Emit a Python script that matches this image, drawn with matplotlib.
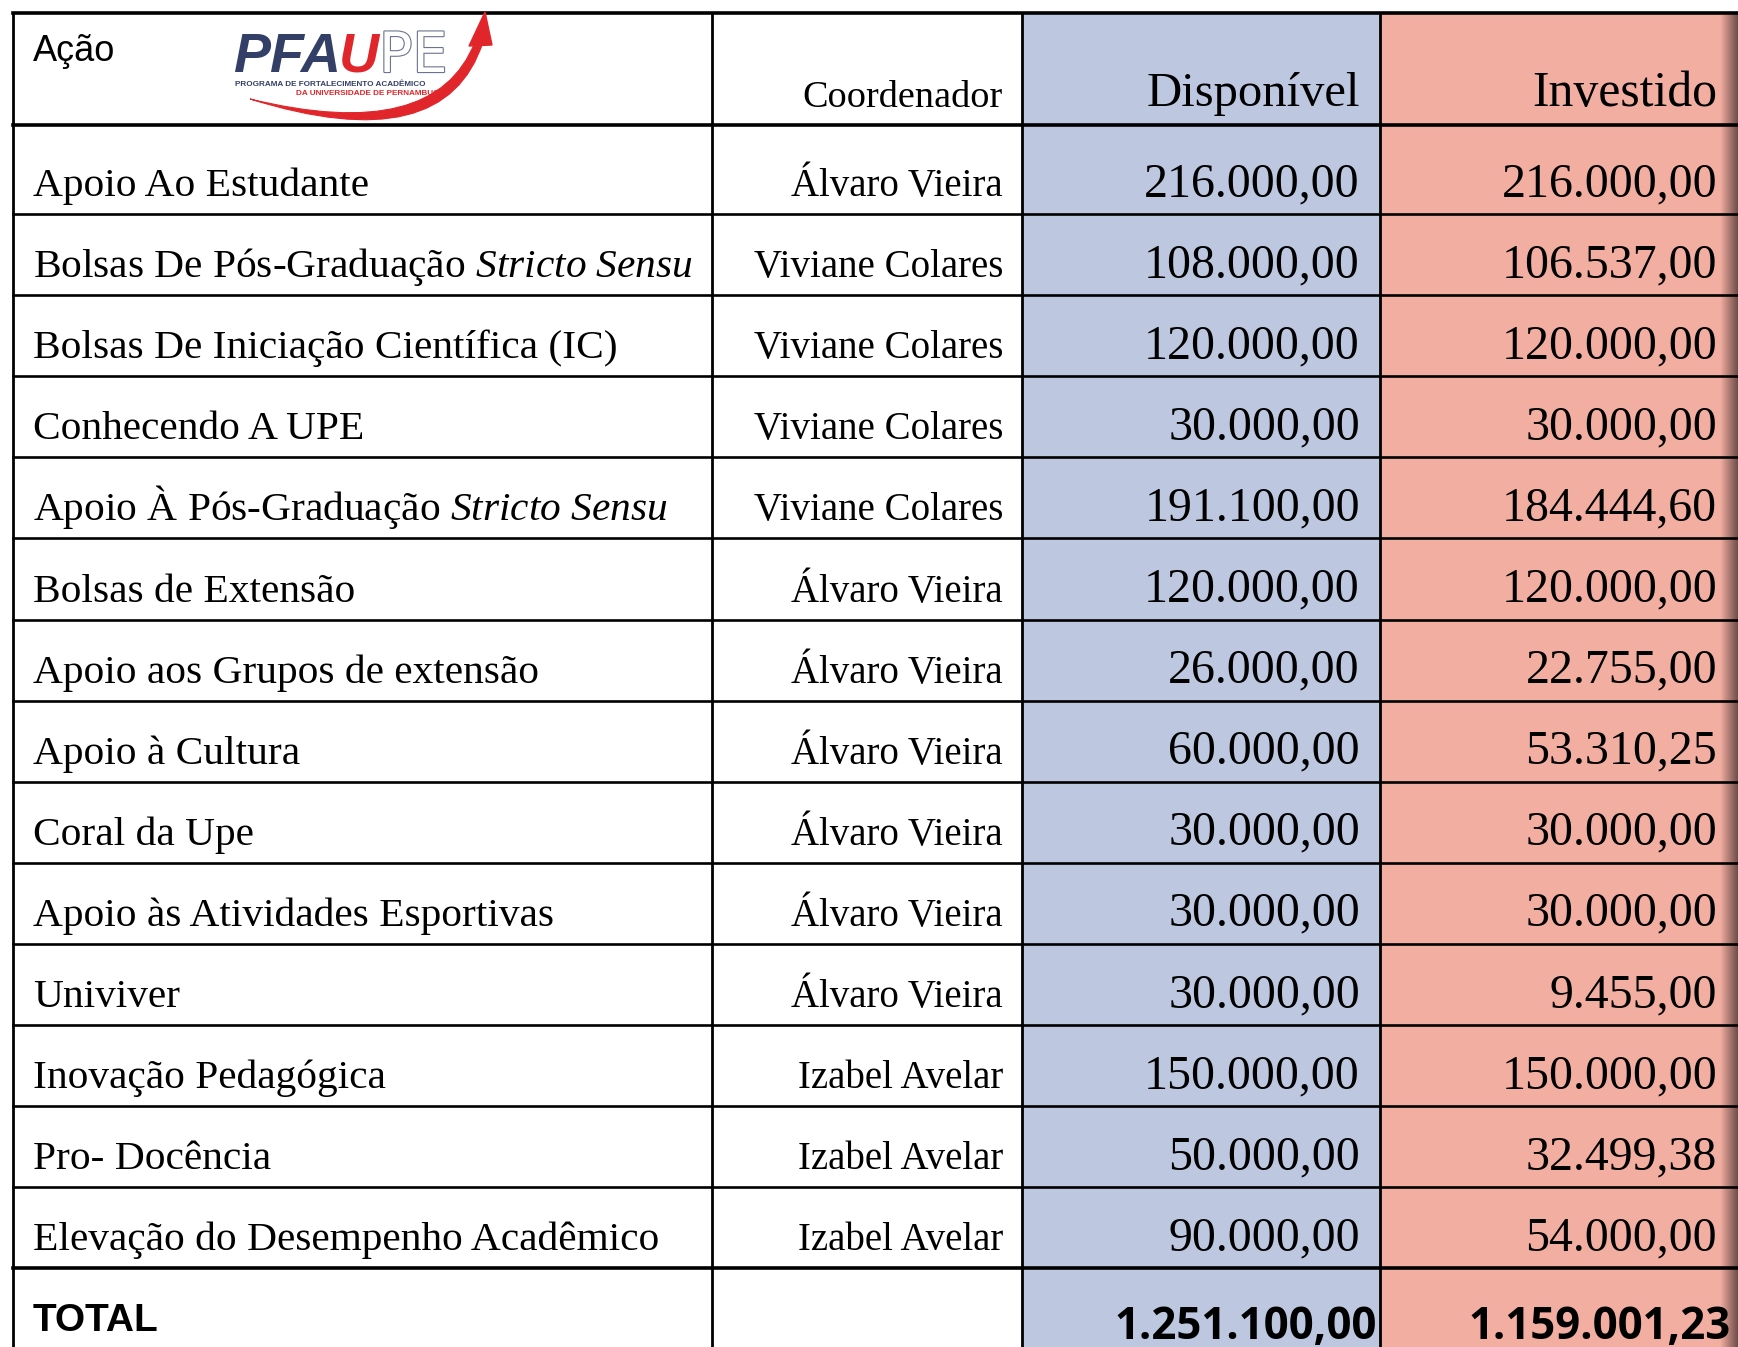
import numpy as np
import matplotlib
matplotlib.use('Agg')
import matplotlib.pyplot as plt
from matplotlib.path import Path
from matplotlib.patches import PathPatch, Polygon, Rectangle
import matplotlib.patheffects as pe

plt.rcParams['mathtext.fontset'] = 'custom'
plt.rcParams['mathtext.rm'] = 'Liberation Serif'
plt.rcParams['mathtext.it'] = 'Liberation Serif:italic'

# data
acoes = ['Apoio Ao Estudante',
         r'Bolsas De Pós-Graduação $\mathit{Stricto\ Sensu}$',
         'Bolsas De Iniciação Científica (IC)',
         'Conhecendo A UPE',
         r'Apoio À Pós-Graduação $\mathit{Stricto\ Sensu}$',
         'Bolsas de Extensão',
         'Apoio aos Grupos de extensão',
         'Apoio à Cultura',
         'Coral da Upe',
         'Apoio às Atividades Esportivas',
         'Univiver',
         'Inovação Pedagógica',
         'Pro- Docência',
         'Elevação do Desempenho Acadêmico']
coordenadores = ['Álvaro Vieira', 'Viviane Colares', 'Viviane Colares', 'Viviane Colares',
                 'Viviane Colares', 'Álvaro Vieira', 'Álvaro Vieira', 'Álvaro Vieira',
                 'Álvaro Vieira', 'Álvaro Vieira', 'Álvaro Vieira', 'Izabel Avelar',
                 'Izabel Avelar', 'Izabel Avelar']
disponivel = [216000, 108000, 120000, 30000, 191100, 120000, 26000, 60000,
              30000, 30000, 30000, 150000, 50000, 90000]
investido = [216000, 106537, 120000, 30000, 184444.60, 120000, 22755, 53310.25,
             30000, 30000, 9455, 150000, 32499.38, 54000]


def brl(v):
    s = f'{v:,.2f}'
    return s.replace(',', '#').replace('.', ',').replace('#', '.')


W, H = 1738, 1347
fig = plt.figure(figsize=(W / 100, H / 100), dpi=100)
ax = fig.add_axes([0, 0, 1, 1])

blue = '#bdc8e0'
pink = '#f3aea2'
serif = 'Liberation Serif'

# layout
cols = [13, 712, 1022, 1380, W]
top = 13
rows = [top, 125, 214]
for i in range(len(acoes) - 1):
    rows.append(rows[-1] + 81.1)

ax.add_patch(Rectangle((cols[2], top), cols[3] - cols[2], H - top, color=blue, zorder=0))
ax.add_patch(Rectangle((cols[3], top), cols[4] - cols[3], H - top, color=pink, zorder=0))

# right edge shadow
grad = np.linspace(0, 1, 50).reshape(1, -1)
shade = matplotlib.colors.LinearSegmentedColormap.from_list('sh', [pink, '#6e4d48'])
ax.imshow(grad, extent=(W - 18, W, H, top), cmap=shade, aspect='auto', zorder=1)
ax.set_xlim(0, W)
ax.set_ylim(H, 0)
ax.axis('off')

# grid lines
for x in cols[:4]:
    ax.plot([x, x], [top, H], color='black', lw=2.0, zorder=3)
for k, y in enumerate(rows):
    lw = 2.6 if k in (0, 1, len(rows) - 1) else 1.9
    ax.plot([cols[0], W], [y, y], color='black', lw=lw, zorder=3)

# header
ax.text(33, 61, 'Ação', family='Liberation Sans', fontsize=26, va='baseline', ha='left')
ax.text(1003, 107, 'Coordenador', family=serif, fontsize=27.5, va='baseline', ha='right')
ax.text(1360, 106, 'Disponível', family=serif, fontsize=35, va='baseline', ha='right')
ax.text(1717, 106, 'Investido', family=serif, fontsize=35.8, va='baseline', ha='right')

# body
for i in range(len(acoes)):
    yb = rows[i + 2] - 18
    ax.text(33, yb, acoes[i], family=serif, fontsize=29.8, va='baseline', ha='left')
    ax.text(1003, yb, coordenadores[i], family=serif, fontsize=28, va='baseline', ha='right')
    ax.text(1360, yb, brl(disponivel[i]), family=serif, fontsize=34.5, va='baseline', ha='right')
    ax.text(1717, yb, brl(investido[i]), family=serif, fontsize=34.5, va='baseline', ha='right')

# total
ax.text(33, 1331, 'TOTAL', family='Liberation Sans', weight='bold', fontsize=28,
        va='baseline', ha='left')
ax.text(1377, 1339, brl(sum(disponivel)), family='Open Sans', weight='bold', fontsize=31.5,
        va='baseline', ha='right')
ax.text(1731, 1339, brl(sum(investido)), family='Open Sans', weight='bold', fontsize=31.5,
        va='baseline', ha='right')

# logo
navy = '#333f66'
red = '#e0262b'
swoosh = Path([(250, 99), (445, 160), (483, 42), (475, 42), (435, 144), (250, 99)],
              [Path.MOVETO, Path.CURVE3, Path.CURVE3, Path.LINETO, Path.CURVE3, Path.CURVE3])
ax.add_patch(PathPatch(swoosh, facecolor=red, edgecolor=red, lw=0.8, zorder=4))
ax.add_patch(Polygon([(485, 12), (469, 46), (492, 45)], closed=True, color=red, zorder=4))

t1 = ax.text(233, 72, 'PFA', family='Liberation Sans', weight='bold', style='italic',
             fontsize=40, color=navy, va='baseline', ha='left', zorder=5)
t2 = ax.annotate('U', xy=(0.98, 0), xycoords=t1, family='Liberation Sans', weight='bold',
                 style='italic', fontsize=40, color=red, va='bottom', ha='left', zorder=5)
ax.annotate('PE', xy=(1.0, 0), xycoords=t2, family='Liberation Sans Narrow', fontsize=40,
            color='white', va='bottom', ha='left', zorder=5,
            path_effects=[pe.Stroke(linewidth=1.6, foreground='#6b7390'), pe.Normal()])
ax.text(235, 86, 'PROGRAMA DE FORTALECIMENTO ACADÊMICO', family='Liberation Sans',
        weight='bold', fontsize=5.9, color=navy, va='baseline', ha='left', zorder=5)
ax.text(445, 95, 'DA UNIVERSIDADE DE PERNAMBUCO', family='Liberation Sans',
        weight='bold', fontsize=5.9, color=red, va='baseline', ha='right', zorder=5)

fig.savefig('out.png', dpi=100)
